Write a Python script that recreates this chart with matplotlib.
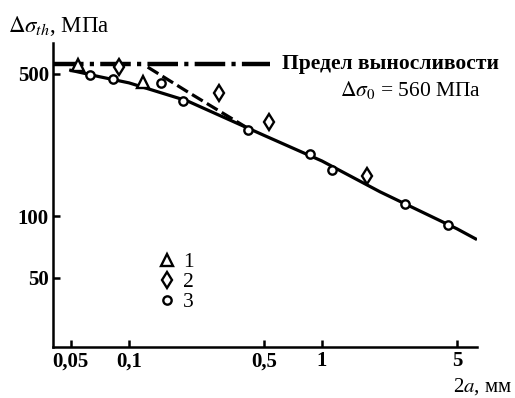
import matplotlib
matplotlib.use("Agg")
import matplotlib.pyplot as plt
from matplotlib.lines import Line2D

plt.rcParams['mathtext.fontset'] = 'stix'
plt.rcParams['font.family'] = ['Liberation Serif', 'DejaVu Serif']
plt.rcParams['lines.scale_dashes'] = False

# --- data ---
tri_x = [0.0545, 0.118]
tri_y = [553, 457]
dia_x = [0.0888, 0.292, 0.531, 1.71]
dia_y = [541, 404, 291, 158]
cir_x = [0.0628, 0.0826, 0.1466, 0.1905, 0.414, 0.867, 1.127, 2.69, 4.50]
cir_y = [494, 472, 452, 369, 266, 203, 169, 115, 91]

fit_x = [0.049, 0.07, 0.1, 0.2, 0.5, 1.0, 2.0, 5.0, 6.35]
fit_y = [523, 485, 452, 369, 250, 187, 132, 87, 77]

dash_x = [0.125, 0.2, 0.42]
dash_y = [540, 410, 268]

limit_x = [0.0404, 0.54]
limit_y = [560, 560]

xticks = [0.05, 0.1, 0.5, 1, 5]
xticklabels = ['0,05', '0,1', '0,5', '1', '5']
yticks = [50, 100, 500]
yticklabels = ['50', '100', '500']

fig = plt.figure(figsize=(5.15, 3.98), dpi=100)
ax = fig.add_axes([53/515, 1-347/398, (477-53)/515, (347-43)/398])
ax.set_xscale('log')
ax.set_yscale('log')
ax.set_xlim(0.0404, 6.35)
ax.set_ylim(22.9, 709)

lw_line = 2.3
ax.plot(fit_x, fit_y, color='black', lw=lw_line, solid_capstyle='butt', zorder=2)
dl, = ax.plot(dash_x, dash_y, color='black', lw=lw_line, zorder=2)
dl.set_dashes([9, 3.5])
hl, = ax.plot(limit_x, limit_y, color='black', lw=3.2, zorder=2)
hl.set_dashes([22, 4.5, 3, 4.5])

mk = dict(ls='none', mfc='white', mec='black', mew=1.7, zorder=3)
ax.plot(tri_x, tri_y, marker='^', ms=8, **mk)
ax.plot(dia_x, dia_y, marker='d', ms=8.5, **mk)
ax.plot(cir_x, cir_y, marker='o', ms=6, **mk)

for s in ['top', 'right']:
    ax.spines[s].set_visible(False)
for s in ['left', 'bottom']:
    ax.spines[s].set_linewidth(1.8)

ax.set_xticks(xticks)
ax.set_xticklabels(xticklabels)
ax.set_yticks(yticks)
ax.set_yticklabels(yticklabels)
ax.minorticks_off()
ax.tick_params(direction='in', length=5, width=1.8, labelsize=15, pad=3)
for lab in ax.get_xticklabels() + ax.get_yticklabels():
    lab.set_fontweight('bold')

# legend
handles = [
    Line2D([], [], marker='^', ms=8, **mk),
    Line2D([], [], marker='d', ms=8.5, **mk),
    Line2D([], [], marker='o', ms=6, **mk),
]
leg = ax.legend(handles, ['1', '2', '3'], loc='upper left',
                bbox_to_anchor=(156/515, 1-252/398), bbox_transform=fig.transFigure,
                frameon=False, handlelength=1.0, handletextpad=0.25,
                labelspacing=0.0, fontsize=15.5, borderpad=0, borderaxespad=0)

fig.text(282/515, 1-64/398, 'Предел выносливости', fontsize=15.5, fontweight='bold',
         ha='left', va='center')
fig.text(340/515, 1-90/398, r'$\Delta\sigma_0$ = 560 МПа', fontsize=15.5,
         ha='left', va='center')
fig.text(8/515, 1-26/398, r'$\Delta\sigma_{th}$, МПа', fontsize=16.5,
         ha='left', va='center')
fig.text(512/515, 1-387/398, r'2$a$, мм', fontsize=15,
         ha='right', va='center')

fig.savefig('out.png', dpi=100)
